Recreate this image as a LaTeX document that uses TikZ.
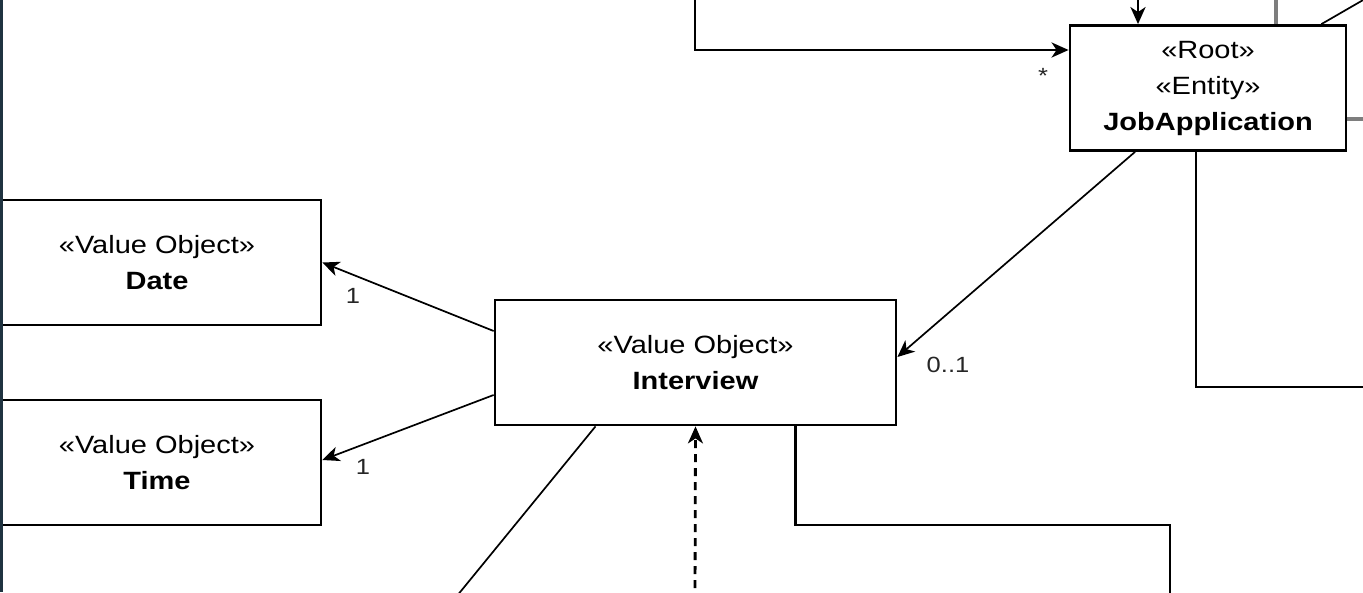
\documentclass[tikz,border=0pt]{standalone}
\usepackage{fontspec}
\setmainfont{Liberation Sans}[FakeStretch=1.16]
\usetikzlibrary{arrows.meta}
\definecolor{navy}{HTML}{1F3340}
\definecolor{lgray}{HTML}{7E7E7E}
\tikzset{
  umlbox/.style={draw=black, line width=2.8pt, fill=white, rectangle, inner sep=0pt,
    minimum height=125pt, align=center, font=\fontsize{25}{36}\selectfont},
  ortho/.style={draw=black, line width=2.8pt},
  diag/.style={draw=black, line width=1.7pt},
  grayline/.style={draw=lgray, line width=3.5pt},
  tip/.style={-{Stealth[length=17pt,width=15pt,inset=5pt]}},
  mult/.style={font=\fontsize{22}{26}\selectfont, inner sep=0pt, text=black!85}
}
\begin{document}
\begin{tikzpicture}[x=1pt,y=-1pt]
\useasboundingbox (0,0) rectangle (1363,592);
\fill[white] (0,0) rectangle (1363,592);
\clip (0,0) rectangle (1363,592);

% nodes
\node[umlbox, minimum width=328pt] (date) at (157,262.5) {«Value Object»\\\textbf{Date}};
\node[umlbox, minimum width=328pt] (time) at (157,462.5) {«Value Object»\\\textbf{Time}};
\node[umlbox, minimum width=401pt] (iv) at (695.5,362.5) {«Value Object»\\\textbf{Interview}};
\node[umlbox, minimum width=276pt] (ja) at (1208,88) {«Root»\\«Entity»\\\textbf{JobApplication}};

% off-canvas ends
\coordinate (e1) at (695,-10);
\coordinate (e3) at (1138,-10);
\coordinate (e4) at (1276,-10);
\coordinate (e5) at (1373,-5.7);
\coordinate (e6) at (1375,119);
\coordinate (e2) at (1375,387);
\coordinate (e8) at (452,602);
\coordinate (e9) at (695,602);
\coordinate (k7) at (1170,525);
\coordinate (e7) at (1170,602);

% connectors around JobApplication
\draw[ortho, tip] (e1) |- ([yshift=38pt]ja.west);
\node[mult] (star) at (1043,76) {*};
\draw[ortho, tip] (e3) -- ([xshift=-70pt]ja.north);
\draw[grayline] (e4) -- ([xshift=68pt]ja.north);
\draw[diag] (e5) -- ([xshift=-26pt]ja.north east);
\draw[grayline] ([yshift=-31pt]ja.east) -- (e6);
\draw[ortho] ([xshift=-12pt]ja.south) |- (e2);

% JobApplication -> Interview
\draw[diag, tip] ([xshift=-73pt]ja.south) -- ([yshift=5.5pt]iv.east);
\node[mult] (m01) at (948,365) {0..1};

% Interview -> Date / Time
\draw[diag, tip] ([yshift=31.5pt]iv.west) -- (date.east);
\node[mult] (m1a) at (353,296) {1};
\draw[diag, tip] ([yshift=-32.5pt]iv.west) -- ([yshift=2.5pt]time.east);
\node[mult] (m1b) at (363,467) {1};

% below Interview
\draw[diag] ([xshift=-100pt]iv.south) -- (e8);
\draw[ortho, tip, dash pattern=on 8pt off 6pt] (e9) -- (iv.south);
\draw[ortho] ([xshift=100pt]iv.south) |- (k7) -- (e7);

% left dark border
\draw[navy, line width=3pt] (1.5,0) -- (1.5,592);
\end{tikzpicture}
\end{document}
